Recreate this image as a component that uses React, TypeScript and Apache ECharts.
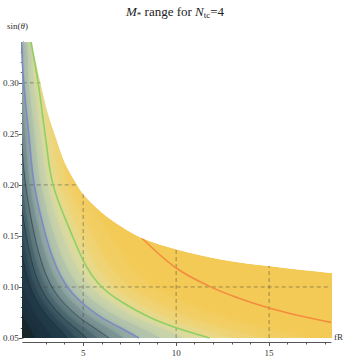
import React, { useEffect, useRef } from "react";
import * as echarts from "echarts";

// ---- axes ----
const xMin = 1.75;
const xMax = 18.33;
const yMin = 0.05;
const yMax = 0.34;
const xMajor = [5, 10, 15];
const xMinor = [3, 4, 6, 7, 8, 9, 11, 12, 13, 14, 16, 17, 18];
const yMajor = [0.05, 0.1, 0.15, 0.2, 0.25, 0.3];
const yMinor = [0.06, 0.07, 0.08, 0.09, 0.11, 0.12, 0.13, 0.14, 0.16, 0.17, 0.18, 0.19, 0.21, 0.22, 0.23, 0.24, 0.26, 0.27, 0.28, 0.29, 0.31, 0.32, 0.33];
const gridX = [5, 10, 15];
const gridY = [0.1, 0.2, 0.3];

// ---- level curves: x position of each level at the sampled sin(theta) values ----
const sampleY = [0.34, 0.3, 0.25, 0.2, 0.15, 0.12, 0.1, 0.085, 0.07, 0.06, 0.05];
const lvl210 = [3.18, 3.74, 4.28, 4.86, 6.4, 7.5, 8.7, 10.3, 12.5, 14.5, 17.1];
const lvl180 = [2.72, 3.2, 3.66, 4.15, 5.48, 6.42, 7.44, 8.8, 10.66, 12.4, 14.6];
const lvl160 = [2.4, 2.84, 3.25, 3.72, 4.86, 5.7, 6.6, 7.81, 9.46, 11.0, 13.0];
const green = [2.19, 2.58, 2.95, 3.38, 4.42, 5.18, 6.0, 7.1, 8.6, 10.0, 11.8];
const lvl130 = [2.05, 2.34, 2.69, 3.08, 3.89, 4.62, 5.4, 6.37, 7.8, 9.1, 10.4];
const lvl115 = [1.9, 2.07, 2.38, 2.73, 3.44, 4.08, 4.77, 5.64, 6.9, 8.05, 9.2];
const blue = [1.68, 1.8, 2.07, 2.37, 2.99, 3.55, 4.15, 4.9, 6.0, 7.0, 8.0];
const lvl090 = [1.49, 1.62, 1.86, 2.13, 2.69, 3.2, 3.74, 4.41, 5.4, 6.3, 7.2];
const thin1 = [1.32, 1.44, 1.66, 1.9, 2.39, 2.84, 3.32, 3.92, 4.8, 5.6, 6.4];
const lvl072 = [1.19, 1.3, 1.49, 1.71, 2.15, 2.56, 2.99, 3.53, 4.32, 5.04, 5.76];
const thin2 = [1.07, 1.17, 1.35, 1.54, 1.94, 2.31, 2.7, 3.19, 3.9, 4.55, 5.2];
const lvl058 = [0.96, 1.04, 1.2, 1.37, 1.73, 2.06, 2.41, 2.84, 3.48, 4.06, 4.64];
const thin3 = [0.86, 0.94, 1.08, 1.23, 1.55, 1.85, 2.16, 2.55, 3.12, 3.64, 4.16];
const lvl042 = [0.69, 0.76, 0.87, 1.0, 1.26, 1.49, 1.74, 2.06, 2.52, 2.94, 3.36];
const lvl030 = [0.5, 0.54, 0.62, 0.71, 0.9, 1.07, 1.25, 1.47, 1.8, 2.1, 2.4];

// orange contour
const orangeX = [8.15, 10.0, 11.79, 13.3, 15.0, 16.7, 18.33];
const orangeY = [0.148, 0.1186, 0.1006, 0.0895, 0.0794, 0.0715, 0.0653];

// upper edge of the allowed region (white above)
const edgeX = [2.05, 2.25, 2.7, 3.1, 3.55, 4.0, 4.5, 5.04, 6.0, 7.08, 8.15, 10.0, 12.41, 15.0, 18.33, 19.5];
const edgeY = [0.37, 0.34, 0.3, 0.27, 0.245, 0.222, 0.205, 0.19, 0.173, 0.159, 0.148, 0.137, 0.127, 0.1205, 0.1137, 0.112];

const GOLD = "#f3ca56";
const layers: { xs: number[]; color: string }[] = [
  { xs: lvl210, color: "#f2ce62" },
  { xs: lvl180, color: "#efd373" },
  { xs: lvl160, color: "#e9d886" },
  { xs: green, color: "#dcda9d" },
  { xs: lvl130, color: "#c9d3a9" },
  { xs: lvl115, color: "#b2c4ac" },
  { xs: blue, color: "#94aaa4" },
  { xs: lvl090, color: "#7b9494" },
  { xs: thin1, color: "#637e83" },
  { xs: lvl072, color: "#4f6b72" },
  { xs: thin2, color: "#3d5864" },
  { xs: lvl058, color: "#2f4857" },
  { xs: thin3, color: "#233a4a" },
  { xs: lvl042, color: "#1d3040" },
  { xs: lvl030, color: "#18252a" },
];

const SERIF = "'Liberation Serif', 'DejaVu Serif', serif";
const AXIS = "#555555";
const SMOOTH = 0.35;

function curve(xs: number[]) {
  return xs.map((x, i) => [x, sampleY[i]]);
}

export default function App() {
  const ref = useRef<HTMLDivElement>(null);
  useEffect(() => {
    if (!ref.current) return;
    const chart = echarts.init(ref.current, undefined, { renderer: "svg" });
    const series: any[] = [];
    // base fill of the allowed region
    series.push({
      type: "line",
      data: edgeX.map((x, i) => [x, edgeY[i]]),
      symbol: "none",
      smooth: SMOOTH,
      lineStyle: { width: 0 },
      areaStyle: { color: GOLD, opacity: 1, origin: "start" },
      z: 1,
      silent: true,
    });
    series.push({
      type: "line",
      data: [[0, yMax], [edgeX[0], yMax]],
      symbol: "none",
      lineStyle: { width: 0 },
      areaStyle: { color: GOLD, opacity: 1, origin: "start" },
      z: 1,
      silent: true,
    });
    layers.forEach((l) => {
      series.push({
        type: "line",
        data: [[0, yMax], ...curve(l.xs)],
        symbol: "none",
        smooth: SMOOTH,
        lineStyle: { width: 0 },
        areaStyle: { color: l.color, opacity: 1, origin: "start", shadowBlur: 6, shadowColor: l.color },
        z: 1,
        silent: true,
      });
    });
    gridX.forEach((gx) => {
      series.push({
        type: "line",
        data: [[gx, yMin], [gx, yMax]],
        symbol: "none",
        lineStyle: { color: "rgba(70,70,60,0.5)", width: 1, type: [4, 3] },
        z: 2,
        silent: true,
      });
    });
    gridY.forEach((gy) => {
      series.push({
        type: "line",
        data: [[xMin, gy], [xMax, gy]],
        symbol: "none",
        lineStyle: { color: "rgba(70,70,60,0.5)", width: 1, type: [4, 3] },
        z: 2,
        silent: true,
      });
    });
    [thin1, thin2, thin3].forEach((t) => {
      series.push({
        type: "line",
        data: curve(t),
        symbol: "none",
        smooth: SMOOTH,
        lineStyle: { color: "rgba(30,40,45,0.75)", width: 0.7 },
        z: 3,
        silent: true,
      });
    });
    series.push({
      type: "line",
      data: curve(blue),
      symbol: "none",
      smooth: SMOOTH,
      lineStyle: { color: "#7d89c4", width: 1.6 },
      z: 3,
      silent: true,
    });
    series.push({
      type: "line",
      data: curve(green),
      symbol: "none",
      smooth: SMOOTH,
      lineStyle: { color: "#90d062", width: 1.6 },
      z: 3,
      silent: true,
    });
    series.push({
      type: "line",
      data: orangeX.map((x, i) => [x, orangeY[i]]),
      symbol: "none",
      smooth: SMOOTH,
      lineStyle: { color: "#f48c3e", width: 1.6 },
      z: 3,
      silent: true,
    });
    series.push({
      type: "line",
      data: edgeX.map((x, i) => [x, edgeY[i]]),
      symbol: "none",
      smooth: SMOOTH,
      lineStyle: { width: 0 },
      areaStyle: { color: "#ffffff", opacity: 1, origin: "end" },
      z: 4,
      silent: true,
    });

    const option: any = {
      animation: false,
      grid: {
        left: 20,
        right: 18,
        top: 42,
        bottom: 21,
        show: false,
      },
      xAxis: [
        {
          type: "value",
          min: xMin,
          max: xMax,
          position: "bottom",
          offset: 4,
          axisLine: { show: true, lineStyle: { color: AXIS, width: 1 } },
          axisTick: { show: true, customValues: xMajor, length: 4, lineStyle: { color: AXIS } },
          axisLabel: {
            customValues: xMajor,
            margin: 6,
            fontFamily: SERIF,
            fontSize: 9,
            color: "#333",
          },
          splitLine: { show: false },
        },
        {
          type: "value",
          min: xMin,
          max: xMax,
          position: "bottom",
          offset: 4,
          axisLine: { show: false },
          axisTick: { show: true, customValues: xMinor, length: 2.5, lineStyle: { color: AXIS } },
          axisLabel: { show: false },
          splitLine: { show: false },
        },
      ],
      yAxis: [
        {
          type: "value",
          min: yMin,
          max: yMax,
          position: "left",
          axisLine: { show: true, lineStyle: { color: AXIS, width: 1 } },
          axisTick: { show: true, customValues: yMajor, length: 4, lineStyle: { color: AXIS } },
          axisLabel: {
            customValues: yMajor,
            margin: 4,
            fontFamily: SERIF,
            fontSize: 9,
            color: "#333",
            formatter: (v: number) => v.toFixed(2),
          },
          splitLine: { show: false },
        },
        {
          type: "value",
          min: yMin,
          max: yMax,
          position: "left",
          axisLine: { show: false },
          axisTick: { show: true, customValues: yMinor, length: 2, lineStyle: { color: AXIS } },
          axisLabel: { show: false },
          splitLine: { show: false },
        },
      ],
      graphic: [
        {
          type: "text",
          x: 175,
          y: 11,
          style: {
            text: "{it|M}{sub|*} {n|range for }{it|N}{sub|tc}{n|=4}",
            align: "center",
            verticalAlign: "middle",
            fill: "#222",
            rich: {
              it: { fontFamily: SERIF, fontSize: 13, fontStyle: "italic", lineHeight: 16, fill: "#222" },
              n: { fontFamily: SERIF, fontSize: 13, lineHeight: 16, fill: "#222" },
              sub: { fontFamily: SERIF, fontSize: 9, lineHeight: 16, verticalAlign: "bottom", fill: "#222" },
            },
          },
        },
        {
          type: "text",
          x: 7,
          y: 26,
          style: {
            text: "{n|sin(}{it|θ}{n|)}",
            align: "left",
            verticalAlign: "middle",
            rich: {
              n: { fontFamily: SERIF, fontSize: 9, fill: "#333" },
              it: { fontFamily: SERIF, fontSize: 9, fontStyle: "italic", fill: "#333" },
            },
          },
        },
        {
          type: "text",
          x: 334,
          y: 337,
          style: {
            text: "fR",
            align: "left",
            verticalAlign: "middle",
            fontFamily: SERIF,
            fontSize: 9,
            fill: "#333",
          },
        },
      ],
      series,
    };
    chart.setOption(option);
    return () => chart.dispose();
  }, []);
  return (
    <div
      ref={ref}
      style={{ position: "fixed", left: 0, top: 0, width: 349, height: 359, background: "#fff" }}
    />
  );
}
